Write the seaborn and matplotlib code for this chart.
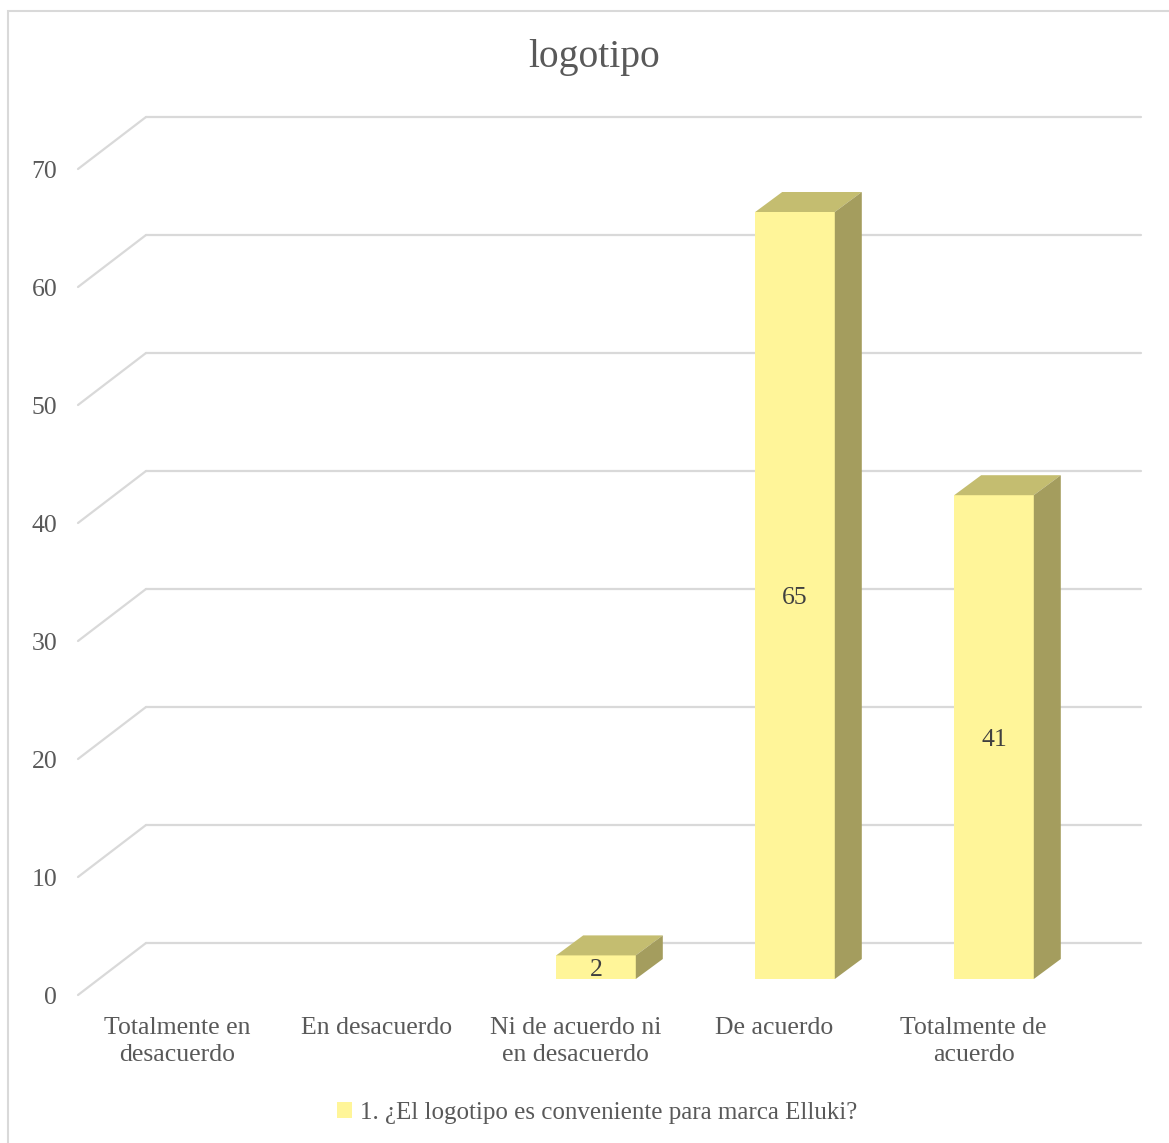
import numpy as np
import pandas as pd
import seaborn as sns
import matplotlib
matplotlib.use("Agg")
import matplotlib.pyplot as plt
from matplotlib.transforms import ScaledTranslation
from matplotlib.patches import Polygon, Patch, Rectangle, ConnectionPatch

categories = ["Totalmente en\ndesacuerdo", "En desacuerdo", "Ni de acuerdo ni\nen desacuerdo",
              "De acuerdo", "Totalmente de\nacuerdo"]
values = [0, 0, 2, 65, 41]
y_ticks = [0, 10, 20, 30, 40, 50, 60, 70]
series_name = "1. ¿El logotipo es conveniente para marca Elluki?"
title = "logotipo"

FRONT = "#FFF599"
TOP = "#C4BD70"
SIDE = "#A49D5E"
GRID = "#D9D9D9"
LABEL = "#595959"

sns.set_theme(style="white")
plt.rcParams["font.family"] = ["Liberation Serif", "DejaVu Serif"]

W, H, DPI = 1169, 1143, 100
fig = plt.figure(figsize=(W / DPI, H / DPI), dpi=DPI)

# axes = front edge of the floor (where the tick labels sit)
ax = fig.add_axes([78 / W, (H - 995) / H, 995 / W, 826 / H])
df = pd.DataFrame({"cat": categories, "val": values})
sns.barplot(data=df, x="cat", y="val", order=categories, color=FRONT, saturation=1,
            width=0.4, ax=ax, zorder=3, linewidth=0)
ax.set_xlim(-0.5, len(categories) - 0.5)
ax.set_ylim(0, 70)
ax.set_xlabel("")
ax.set_ylabel("")
for s in ax.spines.values():
    s.set_visible(False)
ax.patch.set_alpha(0)
ax.set_yticks(y_ticks)
ax.tick_params(axis="y", length=0, pad=15, labelsize=18.5, labelcolor=LABEL)
ax.tick_params(axis="x", length=0, pad=16, labelsize=18.5, labelcolor=LABEL)
for t in ax.get_xticklabels():
    t.set_linespacing(1.3)


def px(dx, dy):
    return ScaledTranslation(dx / DPI, dy / DPI, fig.dpi_scale_trans)


back = ax.transData + px(68, 52)
front = ax.transData

# back wall gridlines and floor-side diagonals
for v in y_ticks:
    ax.plot([-0.5, len(categories) - 0.5], [v, v], color=GRID, lw=1.6,
            transform=back, clip_on=False, zorder=1)
    cp = ConnectionPatch(xyA=(-0.5, v), coordsA=front, xyB=(-0.5, v), coordsB=back,
                         color=GRID, lw=1.6, zorder=1)
    ax.add_artist(cp)

# 3D faces for each bar
tr = ax.transData + px(20.5, 16)
depth = np.array([27.0, 20.0])
for p, v in zip(ax.patches, values):
    p.set_transform(tr)
    if v <= 0:
        p.set_visible(False)
        continue
    x0, w, h = p.get_x(), p.get_width(), p.get_height()
    fl = tr.transform((x0, h))
    fr = tr.transform((x0 + w, h))
    br = tr.transform((x0 + w, 0))
    top_face = Polygon([fl, fr, fr + depth, fl + depth], closed=True, transform=None,
                       facecolor=TOP, edgecolor="none", zorder=3)
    side_face = Polygon([br, fr, fr + depth, br + depth], closed=True, transform=None,
                        facecolor=SIDE, edgecolor="none", zorder=3)
    fig.add_artist(top_face)
    fig.add_artist(side_face)
    ax.text(x0 + w / 2, h / 2, f"{v}", transform=tr + px(0, -3), ha="center", va="center",
            fontsize=18.5, color="#404040", zorder=5)

fig.text(594 / W, 1 - 58 / H, title, ha="center", va="center", fontsize=28.5, color=LABEL)

handle = Patch(facecolor=FRONT, edgecolor="none")
fig.legend([handle], [series_name], loc="center", bbox_to_anchor=(597 / W, 1 - 1113 / H),
           frameon=False, fontsize=18, labelcolor=LABEL, handlelength=0.6,
           handleheight=0.6, handletextpad=0.3)

# chart frame
fig.add_artist(Rectangle((7.5 / W, -0.05), 1.1, 1 - 10.5 / H + 0.05, transform=fig.transFigure,
                         fill=False, edgecolor="#D9D9D9", lw=1.5))

fig.savefig("out.png", dpi=DPI)
